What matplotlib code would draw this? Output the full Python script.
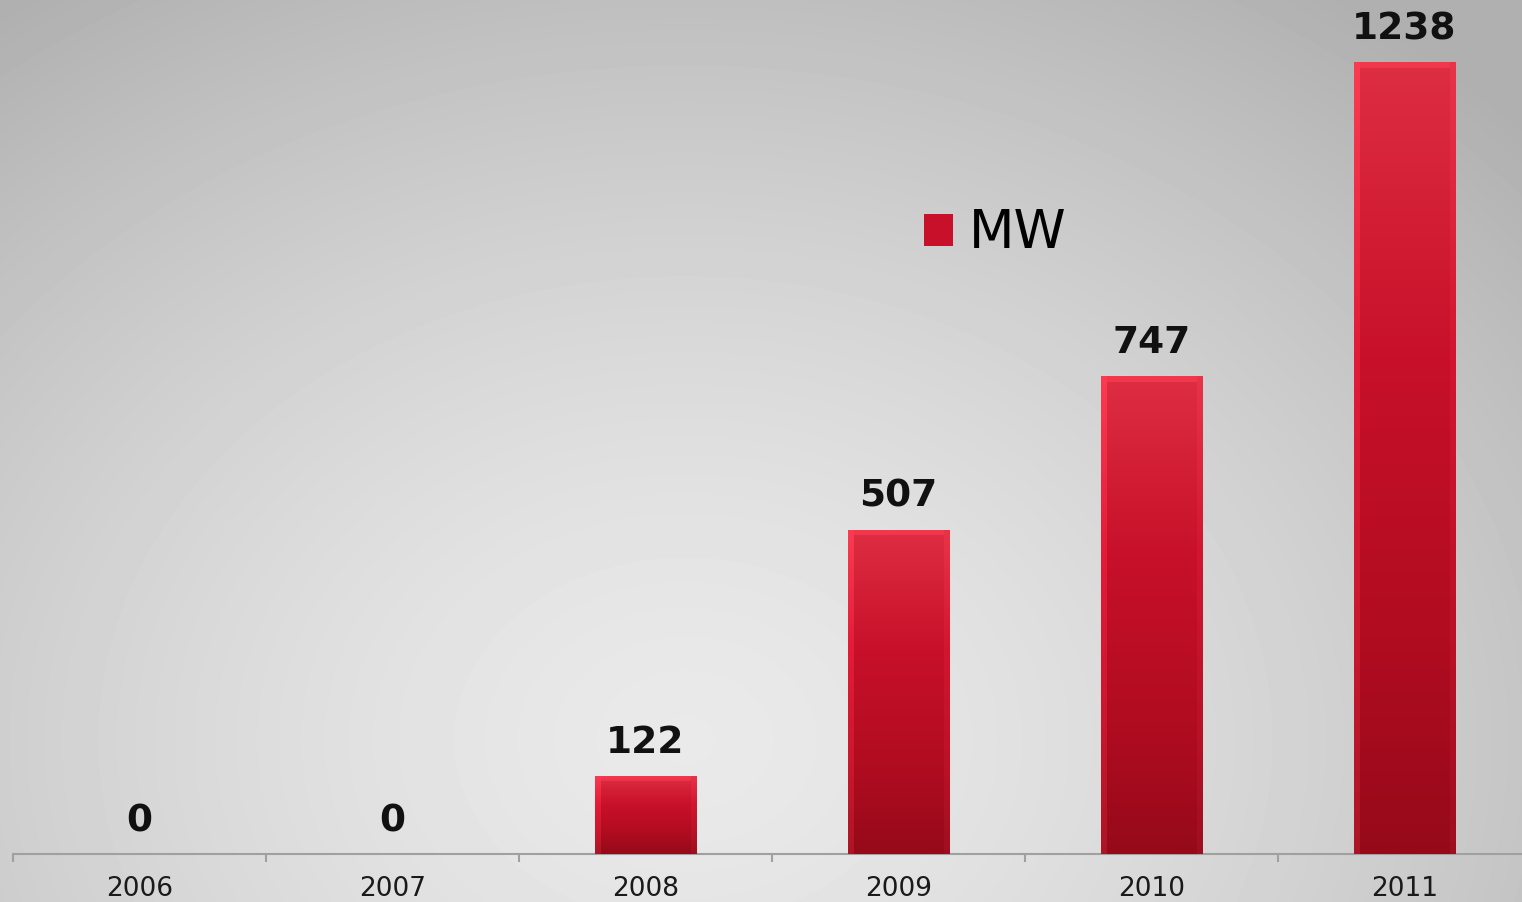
import matplotlib.pyplot as plt
import numpy as np
from matplotlib.colors import LinearSegmentedColormap

years = ["2006", "2007", "2008", "2009", "2010", "2011"]
mw = [0, 0, 122, 507, 747, 1238]

W, H = 1522, 902
fig = plt.figure(figsize=(W / 100, H / 100), dpi=100)

# background: radial grey gradient
bg = fig.add_axes([0, 0, 1, 1])
yy, xx = np.mgrid[0:H, 0:W]
r = np.sqrt(((xx - 0.45 * W) / (0.75 * W)) ** 2 + ((yy - 0.82 * H) / (1.0 * H)) ** 2)
r = np.clip(r, 0, 1)
light, dark = 0.915, 0.69
bg.imshow(light - (light - dark) * r ** 1.5, cmap="gray", vmin=0, vmax=1,
          extent=[0, 1, 0, 1], aspect="auto")
bg.set_axis_off()

# plot axes: baseline at y=854px, category width ~253px starting at x=13
ax = fig.add_axes([13 / W, (H - 854) / H, 1518 / W, 854 / H])
ax.patch.set_alpha(0)
ax.set_xlim(-0.5, 5.5)
ax.set_ylim(0, 1335)

x = np.arange(len(years))
bars = ax.bar(x, mw, width=0.40, color="#c8102a", edgecolor="none", zorder=2)

# red gradient with bevelled edges on each bar
cmap = LinearSegmentedColormap.from_list("red", ["#8a0916", "#b00c20", "#c8102a", "#de2e42"])
for b in bars:
    h = b.get_height()
    if h <= 0:
        continue
    ph = int(h * 0.64)
    ny, nx = max(ph, 2), 102
    v = np.linspace(0, 1, ny)[:, None] * np.ones((1, nx))
    img = cmap(0.1 + 0.9 * v)
    u = np.arange(nx)[None, :] * np.ones((ny, 1))
    rows = np.arange(ny)[:, None] * np.ones((1, nx))
    left = u < 6
    right = u > nx - 7
    top = rows > ny - 7
    img[left, :3] = np.clip(img[left, :3] * 1.08 + 0.04, 0, 1)
    img[right, :3] = np.clip(img[right, :3] * 1.02 + 0.02, 0, 1)
    img[top & ~left & ~right, :3] = np.clip(img[top & ~left & ~right, :3] * 1.05 + 0.03, 0, 1)
    im = ax.imshow(img, extent=[b.get_x(), b.get_x() + b.get_width(), 0, h],
                   origin="lower", aspect="auto", zorder=3, interpolation="bilinear")
    im.set_clip_path(b)

for xi, v in zip(x, mw):
    ax.text(xi, v + 23, str(v), ha="center", va="bottom", fontsize=27,
            fontweight="bold", color="#111111", zorder=4)

for s in ["top", "right", "left"]:
    ax.spines[s].set_visible(False)
ax.spines["bottom"].set_color("#a0a0a0")
ax.spines["bottom"].set_linewidth(1.5)
ax.set_yticks([])
ax.set_xticks(np.arange(-0.5, 6, 1), minor=False)
ax.set_xticklabels([])
ax.tick_params(axis="x", length=6, color="#a0a0a0", width=1.5)
ax.set_xticks(x, minor=True)
ax.set_xticklabels(years, minor=True, fontsize=19, color="#1a1a1a")
ax.tick_params(axis="x", which="minor", length=0, pad=16)
ax.set_xlim(-0.5, 5.5)

# legend
ax.legend([bars[5]], ["MW"], loc="upper left", bbox_to_anchor=(0.5825, 0.788),
          frameon=False, fontsize=38, handlelength=0.55, handleheight=0.55,
          handletextpad=0.3, borderpad=0)

fig.savefig("out.png", dpi=100)
